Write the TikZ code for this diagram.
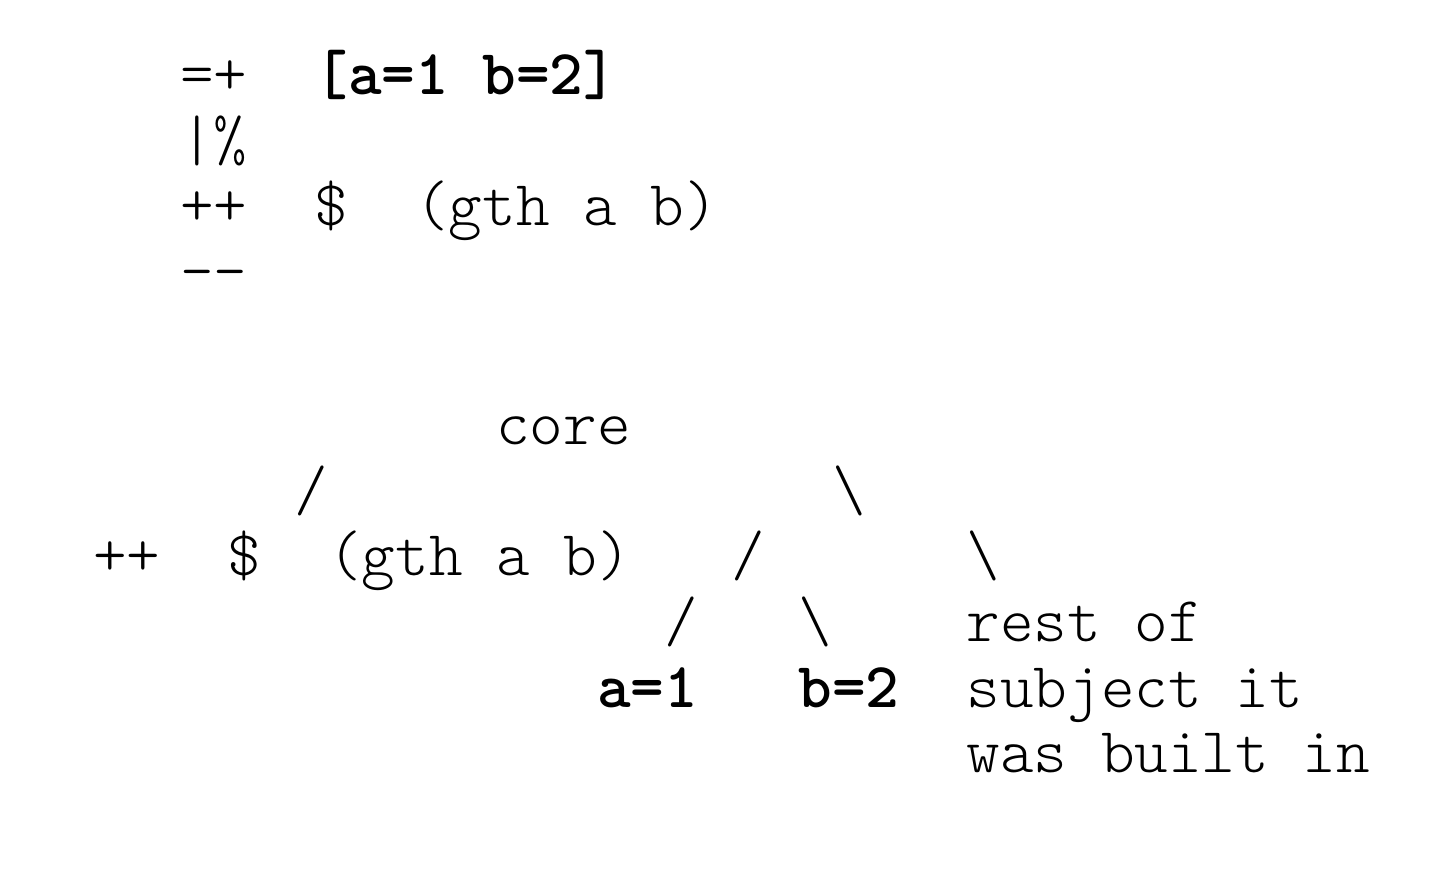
\documentclass[tikz,border=0pt]{standalone}
\usepackage{tikz}

\tikzset{
  txt/.style={font=\ttfamily\fontseries{l}\fontsize{32}{36}\selectfont, anchor=base west, inner sep=0pt, outer sep=0pt},
  bold/.style={txt, font=\ttfamily\bfseries\fontsize{32}{36}\selectfont}
}

\begin{document}
\begin{tikzpicture}[x=16.8pt, y=-32.75pt]
  \useasboundingbox (0,0) rectangle (725pt,-435pt);
  \begin{scope}[shift={(90pt,-47.5pt)}]
    \node[txt] (EQ) at (0,0) {=+};
    \node[bold] (S) at (4,0) {[a=1 b=2]};
    \node[txt] (BAR) at (0,1) {|\%};
    \node[txt] (PP) at (0,2) {++};
    \node[txt] (D) at (4,2) {\$};
    \node[txt] (G) at (7,2) {(gth a b)};
    \node[txt] (MM) at (0,3) {-{}-};
  \end{scope}
  \begin{scope}[shift={(46.5pt,-222.5pt)}]
    \node[txt] (core) at (12,0) {core};
    \node[txt] (L1) at (6,1) {/};
    \node[txt] (R1) at (22,1) {\textbackslash};
    \node[txt] (PP2) at (0,2) {++};
    \node[txt] (D2) at (4,2) {\$};
    \node[txt] (G2) at (7,2) {(gth a b)};
    \node[txt] (L2) at (19,2) {/};
    \node[txt] (R2) at (26,2) {\textbackslash};
    \node[txt] (L3) at (17,3) {/};
    \node[txt] (R3) at (21,3) {\textbackslash};
    \node[txt] (T1) at (26,3) {rest of};
    \node[bold] (A) at (15,4) {a=1};
    \node[bold] (B) at (21,4) {b=2};
    \node[txt] (T2) at (26,4) {subject it};
    \node[txt] (T3) at (26,5) {was built in};
  \end{scope}
\end{tikzpicture}
\end{document}
